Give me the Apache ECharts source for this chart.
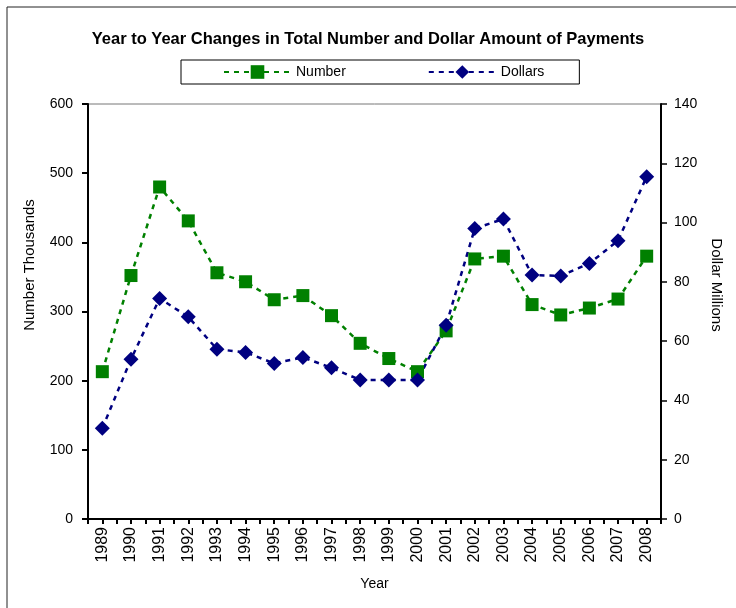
<!DOCTYPE html>
<html>
<head>
<meta charset="utf-8">
<script src="https://cdn.jsdelivr.net/npm/echarts@6/dist/echarts.min.js"></script>
<style>
  html, body { margin: 0; padding: 0; background: #fff; }
  #main { width: 736px; height: 608px; }
</style>
</head>
<body>
<div id="main"></div>
<script>
// values
let years = ["1989", "1990", "1991", "1992", "1993", "1994", "1995", "1996", "1997", "1998",
  "1999", "2000", "2001", "2002", "2003", "2004", "2005", "2006", "2007", "2008"];
let numberThousands = [213, 352, 480, 431, 356, 343, 317, 323, 294, 254,
  232, 213, 272, 376, 380, 310, 295, 305, 318, 380];
let dollarMillions = [30.6, 53.9, 74.4, 68.2, 57.3, 56.2, 52.5, 54.5, 51.0, 46.9,
  46.9, 46.9, 65.4, 98.0, 101.2, 82.3, 82.0, 86.2, 93.9, 115.5];

// half-category tick marks on the x axis
let halfTicks = years.flatMap((y) => ["", ""]);

let font = "Liberation Sans";

let options = {
  animation: false,
  backgroundColor: "#fff",
  title: {
    text: "Year to Year Changes in Total Number and Dollar Amount of Payments",
    left: "center",
    top: 31,
    padding: 0,
    textStyle: { fontFamily: font, fontSize: 16.5, fontWeight: "bold", color: "#000" },
  },
  legend: {
    left: 181,
    top: 60,
    padding: [5, 35, 5, 42],
    itemGap: 82,
    itemWidth: 67,
    itemHeight: 17,
    borderColor: "#000",
    borderWidth: 1,
    textStyle: { fontFamily: font, fontSize: 14, color: "#000" },
    data: ["Number", "Dollars"],
  },
  grid: {
    left: 88,
    right: 75,
    top: 104,
    bottom: 89,
    show: true,
    borderColor: "#777",
    borderWidth: 1,
  },
  xAxis: [
    {
      type: "category",
      data: years,
      name: "Year",
      nameLocation: "middle",
      nameGap: 58,
      nameTextStyle: { fontFamily: font, fontSize: 14, color: "#000" },
      axisLine: { lineStyle: { color: "#000", width: 2 } },
      axisTick: { show: false },
      axisLabel: {
        rotate: 90,
        interval: 0,
        margin: 8,
        fontFamily: font,
        fontSize: 16,
        color: "#000",
      },
    },
    {
      type: "category",
      data: halfTicks,
      position: "bottom",
      axisLine: { show: false },
      axisTick: { show: true, interval: 0, length: 5, lineStyle: { color: "#000", width: 2 } },
      axisLabel: { show: false },
      splitLine: { show: false },
    },
  ],
  yAxis: [
    {
      type: "value",
      min: 0,
      max: 600,
      interval: 100,
      axisLine: { show: true, lineStyle: { color: "#000", width: 2 } },
      axisTick: { show: true, length: 6, lineStyle: { color: "#000", width: 2 } },
      axisLabel: { margin: 15, fontFamily: font, fontSize: 14, color: "#000" },
      splitLine: { show: false },
    },
    {
      type: "value",
      min: 0,
      max: 140,
      interval: 20,
      position: "right",
      axisLine: { show: true, lineStyle: { color: "#000", width: 2 } },
      axisTick: { show: true, length: 6, lineStyle: { color: "#000", width: 1.5 } },
      axisLabel: { margin: 13, fontFamily: font, fontSize: 14, color: "#000" },
      splitLine: { show: false },
    },
  ],
  graphic: [
    {
      type: "rect",
      shape: { x: 7, y: 7, width: 760, height: 640 },
      style: { fill: null, stroke: "#222", lineWidth: 1 },
      silent: true,
    },
    {
      type: "text",
      x: 30,
      y: 265,
      rotation: Math.PI / 2,
      style: {
        text: "Number Thousands",
        font: "15px " + font,
        fill: "#000",
        align: "center",
        verticalAlign: "middle",
      },
    },
    {
      type: "text",
      x: 716,
      y: 285,
      rotation: -Math.PI / 2,
      style: {
        text: "Dollar Millions",
        font: "15px " + font,
        fill: "#000",
        align: "center",
        verticalAlign: "middle",
      },
    },
  ],
  series: [
    {
      name: "Number",
      type: "line",
      yAxisIndex: 0,
      data: numberThousands,
      symbol: "rect",
      symbolSize: 13,
      lineStyle: { color: "#008000", width: 2.5, type: [5, 5] },
      itemStyle: { color: "#008000" },
    },
    {
      name: "Dollars",
      type: "line",
      yAxisIndex: 1,
      data: dollarMillions,
      symbol: "diamond",
      symbolSize: 15,
      lineStyle: { color: "#000080", width: 2.5, type: [5, 5] },
      itemStyle: { color: "#000080" },
    },
  ],
};

let myChart = echarts.init(document.getElementById("main"));
myChart.setOption(options);
</script>
</body>
</html>
